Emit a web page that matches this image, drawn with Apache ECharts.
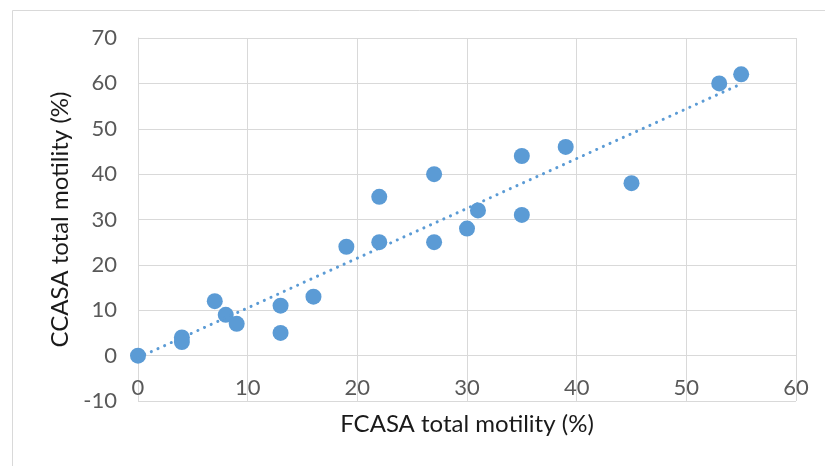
<!DOCTYPE html>
<html>
<head>
<meta charset="utf-8">
<script src="https://cdn.jsdelivr.net/npm/echarts@6/dist/echarts.min.js"></script>
<style>html,body{margin:0;padding:0;background:#fff}#c{width:825px;height:466px}</style>
</head>
<body>
<div id="c"></div>
<script>
var fcasa = [0, 4, 4, 7, 8, 9, 13, 13, 16, 19, 22, 22, 27, 27, 30, 31, 35, 35, 39, 45, 53, 55];
var ccasa = [0, 4, 3, 12, 9, 7, 11, 5, 13, 24, 35, 25, 40, 25, 28, 32, 44, 31, 46, 38, 60, 62];
var xName = 'FCASA total motility (%)';
var yName = 'CCASA total motility (%)';

var points = fcasa.map(function (x, i) { return [x, ccasa[i]]; });
// least-squares trendline from the data
var n = fcasa.length, sx = 0, sy = 0, sxy = 0, sxx = 0;
for (var i = 0; i < n; i++) { sx += fcasa[i]; sy += ccasa[i]; sxy += fcasa[i] * ccasa[i]; sxx += fcasa[i] * fcasa[i]; }
var slope = (n * sxy - sx * sy) / (n * sxx - sx * sx);
var icpt = (sy - slope * sx) / n;
var xmin = Math.min.apply(null, fcasa), xmax = Math.max.apply(null, fcasa);
var trend = [[xmin, icpt + slope * xmin], [xmax, icpt + slope * xmax]];

var font = 'Lato, "Liberation Sans"';
var gridTop = 38, gridBottom = 65, H = 466;
var yMin = -10, yMax = 70;
// shift the horizontal axis up so it sits at y = 0 (axis crosses at zero)
var plotH = H - gridTop - gridBottom;
var zeroShift = plotH * (0 - yMin) / (yMax - yMin);

var chart = echarts.init(document.getElementById('c'), null, { renderer: 'canvas' });
chart.setOption({
  animation: false,
  backgroundColor: '#fff',
  graphic: [{
    type: 'rect', left: 10, top: 8, shape: { x: 0, y: 0, width: 900, height: 600 },
    style: { fill: 'none', stroke: '#d9d9d9', lineWidth: 1 }, silent: true, z: -1
  }],
  grid: { left: 138, right: 29, top: gridTop, bottom: gridBottom, containLabel: false, outerBoundsMode: 'none' },
  xAxis: {
    type: 'value', min: 0, max: 60, interval: 10,
    offset: -zeroShift,
    name: xName, nameLocation: 'middle', nameGap: 57,
    nameTextStyle: { fontFamily: font, fontSize: 24, color: '#1a1a1a' },
    axisLine: { onZero: false, lineStyle: { color: '#d9d9d9', width: 1 } },
    axisTick: { show: false },
    axisLabel: { fontFamily: font, fontSize: 22, color: '#595959', margin: 21 },
    splitLine: { show: true, lineStyle: { color: '#d9d9d9', width: 1 } }
  },
  yAxis: {
    type: 'value', min: yMin, max: yMax, interval: 10,
    name: yName, nameLocation: 'middle', nameGap: 54, nameRotate: 90,
    nameTextStyle: { fontFamily: font, fontSize: 24, color: '#1a1a1a' },
    axisLine: { show: true, onZero: false, lineStyle: { color: '#d9d9d9', width: 1 } },
    axisTick: { show: false },
    axisLabel: { fontFamily: font, fontSize: 22, color: '#595959', margin: 21 },
    splitLine: { show: true, lineStyle: { color: '#d9d9d9', width: 1 } }
  },
  series: [{
    type: 'line', data: trend, showSymbol: false, symbol: 'none', z: 3,
    lineStyle: { color: '#5b9bd5', width: 3, type: [0.1, 7.2], cap: 'round' }
  }, {
    type: 'scatter', data: points, symbol: 'circle', symbolSize: 16, z: 2,
    itemStyle: { color: '#5b9bd5', opacity: 1 }
  }]
});
</script>
</body>
</html>
